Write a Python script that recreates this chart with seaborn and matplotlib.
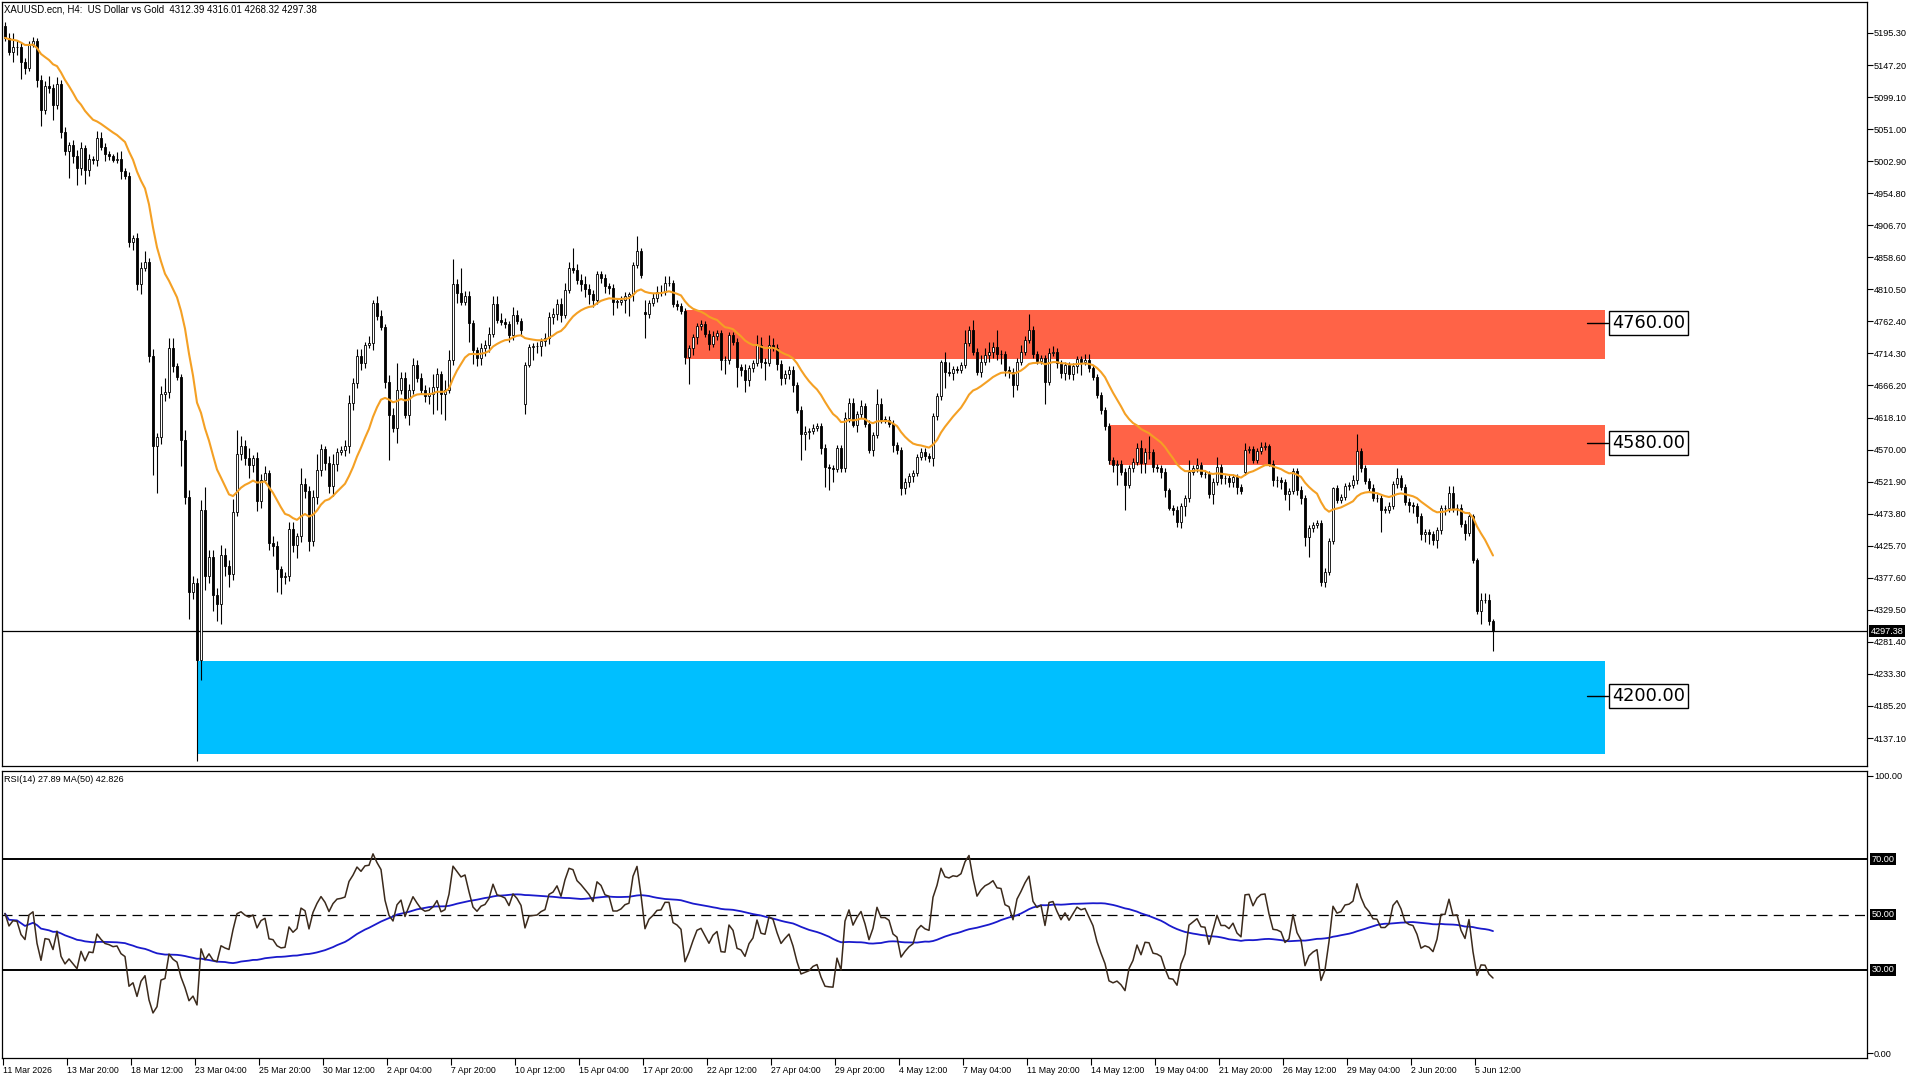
import numpy as np
import pandas as pd
import matplotlib
matplotlib.use("Agg")
import matplotlib.pyplot as plt
from matplotlib.patches import Rectangle
import seaborn as sns

# ---------------- data ----------------
first_open = 5206.0
closes = [
    5188, 5167, 5175, 5174, 5152, 5143, 5178, 5183, 5124, 5079,
    5115, 5113, 5087, 5119, 5046, 5018, 5027, 5010, 4992, 5022,
    4990, 5006, 5004, 5038, 5024, 5013, 5010, 5005, 5006, 4988,
    4981, 4882, 4887, 4819, 4843, 4852, 4711, 4575, 4589, 4653,
    4657, 4723, 4695, 4679, 4585, 4499, 4356, 4370, 4254, 4479,
    4380, 4409, 4352, 4338, 4412, 4395, 4384, 4476, 4564, 4575,
    4557, 4547, 4557, 4493, 4525, 4535, 4430, 4425, 4391, 4379,
    4381, 4451, 4427, 4440, 4518, 4508, 4433, 4499, 4539, 4571,
    4550, 4515, 4548, 4567, 4570, 4575, 4640, 4670, 4711, 4700,
    4727, 4730, 4790, 4770, 4754, 4672, 4622, 4602, 4659, 4677,
    4622, 4659, 4697, 4677, 4659, 4651, 4654, 4664, 4683, 4654,
    4660, 4705, 4818, 4805, 4792, 4800, 4760, 4719, 4707, 4722,
    4727, 4744, 4789, 4765, 4762, 4758, 4742, 4772, 4763, 4749,
    4697, 4724, 4725, 4726, 4733, 4737, 4769, 4774, 4788, 4772,
    4810, 4842, 4840, 4824, 4818, 4811, 4804, 4794, 4833, 4828,
    4815, 4813, 4792, 4792, 4795, 4801, 4803, 4847, 4868, 4832,
    4773, 4790, 4797, 4806, 4807, 4820, 4820, 4789, 4785, 4778,
    4709, 4722, 4739, 4755, 4758, 4744, 4729, 4740, 4745, 4705,
    4704, 4742, 4732, 4694, 4690, 4675, 4692, 4700, 4727, 4702,
    4700, 4727, 4723, 4699, 4677, 4684, 4690, 4667, 4630, 4594,
    4596, 4598, 4603, 4605, 4573, 4544, 4542, 4541, 4572, 4542,
    4617, 4640, 4607, 4623, 4635, 4609, 4570, 4592, 4639, 4615,
    4615, 4609, 4577, 4569, 4512, 4522, 4530, 4535, 4559, 4567,
    4560, 4557, 4620, 4650, 4702, 4687, 4685, 4691, 4690, 4697,
    4730, 4750, 4717, 4687, 4702, 4712, 4717, 4724, 4714, 4713,
    4690, 4687, 4667, 4702, 4717, 4735, 4750, 4713, 4703, 4707,
    4672, 4715, 4717, 4700, 4685, 4697, 4684, 4695, 4706, 4702,
    4704, 4692, 4679, 4652, 4629, 4605, 4554, 4547, 4549, 4537,
    4517, 4542, 4552, 4572, 4550, 4567, 4566, 4544, 4542, 4537,
    4509, 4482, 4480, 4462, 4485, 4497, 4537, 4542, 4547, 4534,
    4533, 4503, 4522, 4544, 4527, 4527, 4522, 4529, 4514, 4508,
    4570, 4571, 4555, 4568, 4574, 4575, 4549, 4525, 4524, 4521,
    4504, 4508, 4538, 4510, 4497, 4439, 4452, 4457, 4460, 4372,
    4387, 4433, 4512, 4495, 4499, 4515, 4517, 4524, 4568, 4542,
    4523, 4513, 4498, 4497, 4480, 4480, 4486, 4518, 4527, 4514,
    4492, 4487, 4485, 4470, 4443, 4446, 4443, 4435, 4449, 4482,
    4482, 4505, 4482, 4483, 4459, 4445, 4471, 4405, 4328, 4345,
    4344, 4312.39, 4297.38,
]
upper_wicks = [
    6, 8, 20, 10, 8, 5, 6, 7, 5, 8,
    8, 15, 6, 10, 6, 8, 5, 8, 10, 10,
    5, 8, 5, 10, 8, 6, 5, 3, 10, 12,
    5, 5, 5, 8, 8, 16, 5, 10, 6, 12,
    20, 14, 15, 5, 5, 15, 10, 10, 8, 15,
    35, 10, 10, 10, 15, 10, 10, 20, 35, 15,
    10, 15, 5, 10, 8, 10, 5, 10, 8, 5,
    5, 10, 10, 5, 25, 10, 8, 10, 25, 8,
    5, 10, 15, 5, 5, 10, 12, 8, 10, 10,
    5, 10, 5, 10, 10, 5, 10, 10, 41, 10,
    10, 10, 10, 8, 8, 8, 10, 20, 10, 5,
    15, 14, 38, 8, 38, 8, 8, 5, 5, 8,
    8, 10, 12, 12, 10, 5, 5, 12, 8, 5,
    5, 5, 5, 5, 5, 8, 8, 8, 8, 10,
    10, 10, 30, 8, 10, 12, 8, 5, 5, 5,
    5, 5, 5, 5, 5, 5, 3, 5, 22, 5,
    18, 5, 8, 10, 10, 10, 10, 5, 5, 5,
    5, 5, 5, 5, 6, 5, 5, 8, 5, 5,
    5, 5, 5, 5, 5, 8, 5, 5, 15, 12,
    5, 15, 10, 5, 5, 5, 5, 5, 5, 5,
    10, 5, 5, 5, 5, 5, 5, 5, 5, 5,
    10, 7, 7, 5, 10, 5, 5, 5, 22, 8,
    5, 5, 5, 5, 5, 5, 5, 5, 5, 5,
    5, 5, 5, 5, 3, 15, 15, 5, 5, 5,
    20, 6, 15, 5, 10, 10, 15, 8, 26, 5,
    5, 5, 5, 5, 10, 5, 24, 5, 5, 5,
    5, 8, 8, 5, 5, 5, 5, 5, 5, 5,
    10, 10, 5, 5, 5, 5, 5, 5, 5, 5,
    5, 5, 5, 8, 12, 5, 24, 5, 5, 5,
    5, 3, 5, 5, 5, 5, 18, 5, 10, 5,
    5, 5, 5, 15, 5, 5, 5, 5, 5, 5,
    10, 5, 5, 5, 7, 7, 3, 5, 5, 5,
    5, 5, 5, 5, 5, 5, 5, 5, 5, 5,
    5, 5, 2, 5, 5, 5, 5, 8, 26, 5,
    5, 5, 5, 5, 5, 5, 5, 5, 15, 5,
    5, 5, 5, 5, 5, 5, 5, 5, 5, 5,
    5, 10, 10, 5, 5, 5, 5, 2, 2, 10,
    10, 10, 3.62,
]
lower_wicks = [
    4, 5, 15, 12, 26, 10, 5, 4, 10, 24,
    6, 8, 23, 6, 8, 6, 40, 10, 25, 10,
    22, 10, 5, 8, 5, 10, 5, 3, 5, 12,
    5, 8, 12, 10, 15, 5, 10, 43, 70, 10,
    10, 10, 8, 5, 40, 10, 40, 10, 151, 30,
    20, 10, 25, 25, 30, 15, 20, 10, 5, 10,
    10, 20, 10, 15, 10, 5, 10, 15, 35, 25,
    10, 8, 10, 20, 8, 10, 15, 8, 10, 8,
    10, 10, 15, 10, 5, 10, 10, 10, 8, 10,
    8, 5, 10, 5, 5, 10, 68, 5, 22, 5,
    5, 15, 5, 5, 5, 10, 12, 30, 35, 30,
    40, 5, 8, 15, 5, 5, 28, 20, 12, 10,
    12, 10, 5, 5, 5, 5, 10, 8, 5, 8,
    14, 3, 20, 10, 15, 8, 8, 10, 10, 10,
    5, 5, 5, 5, 10, 12, 15, 10, 5, 8,
    10, 10, 20, 10, 5, 20, 30, 10, 5, 5,
    36, 5, 5, 5, 5, 5, 5, 5, 5, 5,
    10, 40, 10, 10, 5, 5, 10, 5, 5, 15,
    20, 5, 5, 30, 10, 18, 10, 5, 5, 10,
    25, 5, 5, 10, 10, 8, 8, 10, 5, 40,
    25, 10, 5, 5, 10, 30, 32, 20, 5, 5,
    5, 5, 3, 10, 5, 5, 5, 10, 5, 5,
    5, 5, 10, 5, 10, 8, 8, 8, 5, 5,
    5, 5, 12, 5, 5, 25, 5, 10, 5, 5,
    5, 5, 5, 5, 8, 5, 10, 10, 10, 15,
    10, 10, 18, 8, 5, 5, 5, 5, 5, 5,
    33, 5, 5, 8, 8, 10, 8, 10, 10, 20,
    5, 5, 5, 5, 5, 5, 5, 10, 30, 5,
    37, 5, 5, 5, 15, 15, 10, 8, 5, 10,
    10, 3, 8, 8, 10, 15, 5, 5, 5, 5,
    5, 5, 15, 5, 8, 8, 8, 8, 10, 5,
    5, 5, 5, 5, 5, 5, 3, 10, 10, 10,
    10, 25, 5, 8, 8, 14, 30, 5, 5, 6,
    8, 5, 5, 5, 5, 5, 5, 5, 5, 5,
    5, 5, 5, 5, 33, 5, 5, 5, 5, 5,
    5, 10, 10, 10, 8, 12, 15, 8, 12, 5,
    10, 5, 5, 10, 5, 10, 5, 5, 5, 20,
    5, 5, 29.06,
]
# opens that gap away from the previous close (weekend gaps)
gap_opens = {130: 4638.0, 160: 4776.0, 310: 4537.0}

x_tick_labels = ["11 Mar 2026", "13 Mar 20:00", "18 Mar 12:00", "23 Mar 04:00",
                 "25 Mar 20:00", "30 Mar 12:00", "2 Apr 04:00", "7 Apr 20:00",
                 "10 Apr 12:00", "15 Apr 04:00", "17 Apr 20:00", "22 Apr 12:00",
                 "27 Apr 04:00", "29 Apr 20:00", "4 May 12:00", "7 May 04:00",
                 "11 May 20:00", "14 May 12:00", "19 May 04:00", "21 May 20:00",
                 "26 May 12:00", "29 May 04:00", "2 Jun 20:00", "5 Jun 12:00"]
bars_per_label = 16

price_ticks_start = 4137.10
price_ticks_step = 48.10
price_ticks_count = 23

zone_start_bar = [170, 276, 48]
zone_end_bar = [400, 400, 400]
zone_low = [4706.0, 4547.0, 4113.0]
zone_high = [4779.5, 4607.0, 4253.0]
zone_level = [4760.00, 4580.00, 4200.00]
zone_colors = ["#FF6347", "#FF6347", "#00BFFF"]

last_price = 4297.38
title_text = "XAUUSD.ecn, H4:  US Dollar vs Gold  4312.39 4316.01 4268.32 4297.38"
rsi_text = "RSI(14) 27.89 MA(50) 42.826"
rsi_levels = [70, 50, 30]

# ---------------- derived table ----------------
n = len(closes)
closes_a = np.array(closes, dtype=float)
opens_a = np.r_[first_open, closes_a[:-1]]
for k, v in gap_opens.items():
    opens_a[k] = v
highs_a = np.maximum(opens_a, closes_a) + np.array(upper_wicks, dtype=float)
lows_a = np.minimum(opens_a, closes_a) - np.array(lower_wicks, dtype=float)
df = pd.DataFrame({"i": np.arange(n), "open": opens_a, "high": highs_a,
                   "low": lows_a, "close": closes_a})
df["ema"] = df["close"].ewm(span=20, adjust=False).mean()

# Wilder RSI(14), seeded so that the first bars have a defined value
ag, al = 9.0, 7.5
rsi = []
prev = first_open
for c in closes_a:
    d = c - prev
    prev = c
    ag = (ag * 13 + max(d, 0)) / 14
    al = (al * 13 + max(-d, 0)) / 14
    rsi.append(100 - 100 / (1 + ag / al))
df["rsi"] = rsi
df["rsi_ma"] = df["rsi"].rolling(50, min_periods=1).mean()

# ---------------- figure ----------------
sns.set_theme(style="white")
plt.rcParams["font.family"] = ["Liberation Sans", "DejaVu Sans"]

W, H = 1920, 1080
fig = plt.figure(figsize=(19.2, 10.8), dpi=100)
left_px, right_px = 2, 1867
ax = fig.add_axes([left_px / W, 1 - 766 / H, (right_px - left_px) / W, 764 / H])
ax2 = fig.add_axes([left_px / W, 1 - 1058 / H, (right_px - left_px) / W, 287 / H])

xlim = (-0.75, 465.5)
for a in (ax, ax2):
    a.set_facecolor("white")
    a.set_xlim(*xlim)
    for s in a.spines.values():
        s.set_color("black")
        s.set_linewidth(0.9)

# zones
for s0, s1, lo, hi, col in zip(zone_start_bar, zone_end_bar, zone_low, zone_high, zone_colors):
    ax.add_patch(Rectangle((s0, lo), s1 - s0, hi - lo, facecolor=col, edgecolor="none", zorder=1))

# current price line
ax.axhline(last_price, color="black", lw=0.9, zorder=2)

# candles
up = df["close"] >= df["open"]
body_lo = np.minimum(df["open"], df["close"])
body_h = np.maximum(np.abs(df["close"] - df["open"]), 0.6)
ax.vlines(df["i"], df["low"], df["high"], color="black", lw=0.8, zorder=3)
ax.bar(df["i"], body_h, bottom=body_lo, width=0.72,
       color=np.where(up, "white", "black"), edgecolor="black", linewidth=0.6, zorder=4)

# moving average on price
sns.lineplot(data=df, x="i", y="ema", ax=ax, color="#F4A024", lw=1.5, zorder=5)

# zone labels
for lvl in zone_level:
    ax.plot([395.5, 400.75], [lvl, lvl], color="black", lw=1.0, zorder=6)
    ax.text(401.7, lvl, f"{lvl:.2f}", fontsize=12.8, family="DejaVu Sans",
            ha="left", va="center", color="black", zorder=7,
            bbox=dict(boxstyle="square,pad=0.18", facecolor="white",
                      edgecolor="black", linewidth=1.0))

ax.set_ylim(4095.1, 5241.8)
pt = np.round(price_ticks_start + price_ticks_step * np.arange(price_ticks_count), 2)
ax.set_yticks(pt)
ax.set_yticklabels([f"{v:.2f}" for v in pt])
ax.yaxis.tick_right()
ax.tick_params(axis="y", direction="out", length=4, width=0.8, labelsize=6.6,
               pad=1, colors="black", right=True, left=False)
ax.set_xticks([])
ax.set_xlabel("")
ax.set_ylabel("")
ax.annotate(f"{last_price:.2f}", xy=(1, last_price), xycoords=("axes fraction", "data"),
            xytext=(2.5, 0), textcoords="offset points", ha="left", va="center",
            fontsize=6.6, color="white",
            bbox=dict(boxstyle="square,pad=0.15", facecolor="black", edgecolor="none"))

# RSI panel
sns.lineplot(data=df, x="i", y="rsi_ma", ax=ax2, color="#1A1ACC", lw=1.3, zorder=4)
sns.lineplot(data=df, x="i", y="rsi", ax=ax2, color="#3B2A1C", lw=1.1, zorder=5)
ax2.axhline(rsi_levels[0], color="black", lw=1.4, zorder=2)
ax2.axhline(rsi_levels[2], color="black", lw=1.4, zorder=2)
ax2.axhline(rsi_levels[1], color="black", lw=0.9, ls=(0, (8, 5)), zorder=2)
ax2.set_ylim(-1.8, 101.8)
ax2.set_yticks([0, 100])
ax2.set_yticklabels(["0.00", "100.00"])
ax2.yaxis.tick_right()
ax2.tick_params(axis="y", direction="out", length=4, width=0.8, labelsize=6.6,
                pad=1, colors="black", right=True, left=False)
for lv in rsi_levels:
    ax2.annotate(f"{lv:.2f}", xy=(1, lv), xycoords=("axes fraction", "data"),
                 xytext=(3.5, 0), textcoords="offset points", ha="left", va="center",
                 fontsize=6.6, color="white",
                 bbox=dict(boxstyle="square,pad=0.15", facecolor="black", edgecolor="none"))

tick_pos = [bars_per_label * k - 0.5 for k in range(len(x_tick_labels))]
ax2.set_xticks(tick_pos)
ax2.set_xticklabels(x_tick_labels, ha="left")
ax2.tick_params(axis="x", direction="out", length=5, width=0.8, labelsize=6.3,
                pad=1, colors="black", bottom=True)
ax2.set_xlabel("")
ax2.set_ylabel("")

fig.text(4 / W, 1 - 10 / H, title_text, fontsize=6.9, ha="left", va="center", color="black")
fig.text(4 / W, 1 - 779 / H, rsi_text, fontsize=6.6, ha="left", va="center", color="black")

fig.savefig("out.png", dpi=100, facecolor="white")
